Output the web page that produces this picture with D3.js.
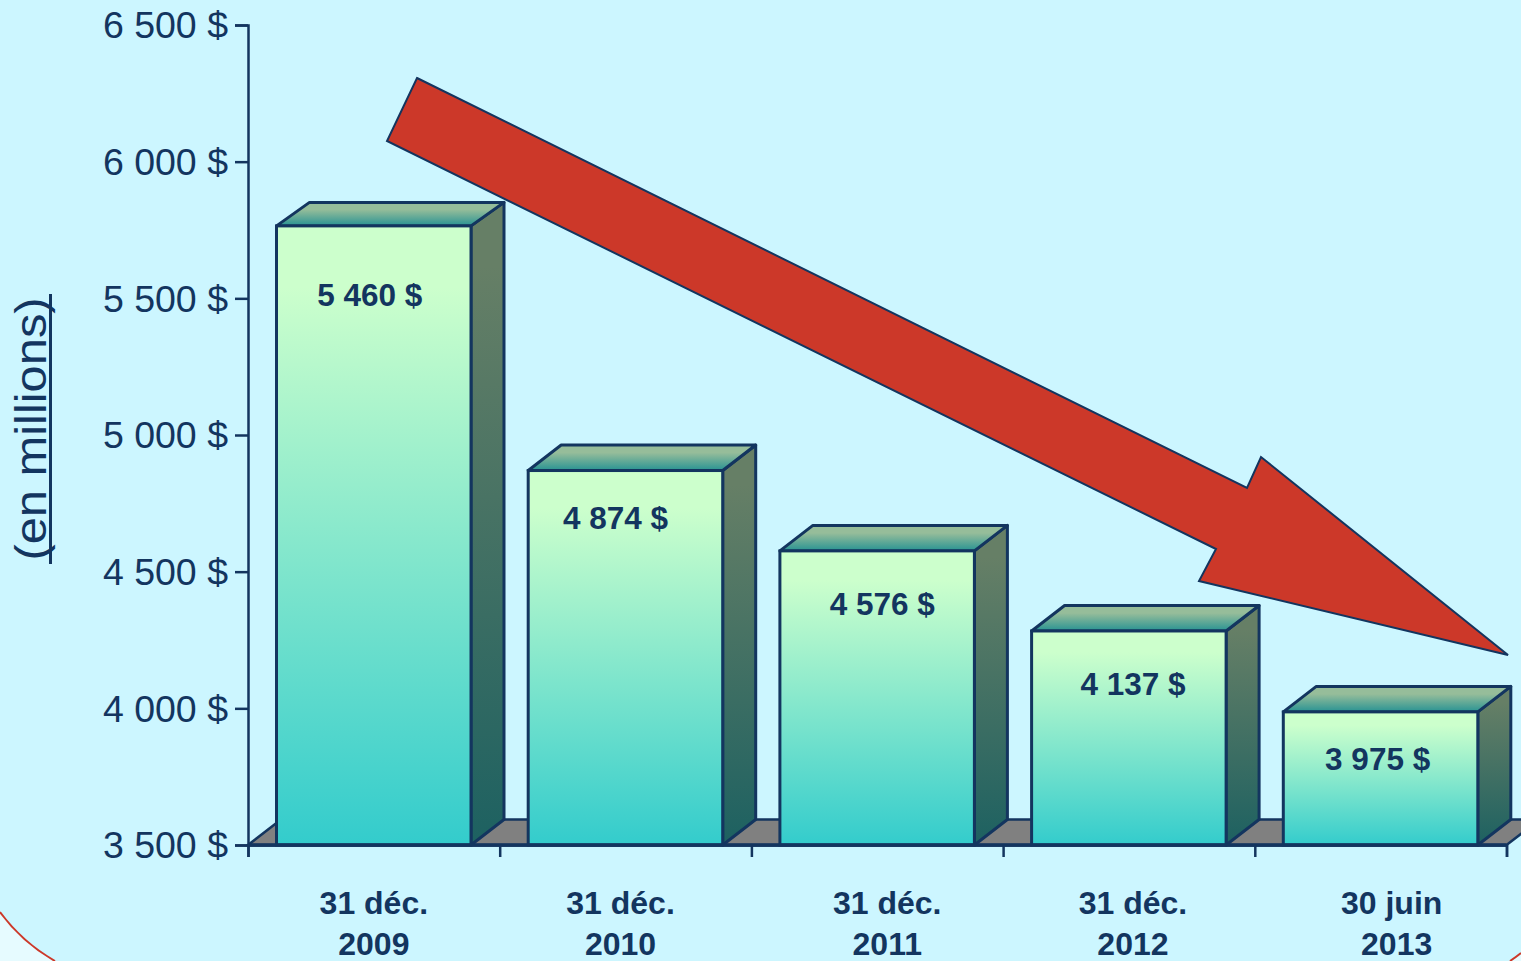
<!DOCTYPE html>
<html>
<head>
<meta charset="utf-8">
<script src="https://cdn.jsdelivr.net/npm/d3@7"></script>
<style>
  html, body { margin: 0; padding: 0; background: #ccf6ff; overflow: hidden; }
  svg { display: block; }
  text { font-family: "Liberation Sans", Arial, sans-serif; fill: #13355f; }
</style>
</head>
<body>
<div id="chart"></div>
<script>
// chart values
const categories = ['31 déc. 2009', '31 déc. 2010', '31 déc. 2011', '31 déc. 2012', '30 juin 2013'];
const dateLines = [['31 déc.', '2009'], ['31 déc.', '2010'], ['31 déc.', '2011'], ['31 déc.', '2012'], ['30 juin', '2013']];
// bar heights as drawn in the picture (they do not always agree with the printed labels)
const barValues = [5765, 4870, 4576, 4283, 3987];
const barLabels = ['5 460 $', '4 874 $', '4 576 $', '4 137 $', '3 975 $'];
const yTicks = [3500, 4000, 4500, 5000, 5500, 6000, 6500];
const yTitle = '(en millions)';

// label placement, the source slide has them hand placed
const labelShiftX = [-4, -10, 5, 4, -3];
const labelDropY = [69, 47, 53, 53, 47];
const dateShiftX = [[0, 0], [-5, -5], [10, 10], [4, 4], [11, 16]];
// first bar has a slightly shallower lid on the slide
const lidDepth = [23.5, 25.5, 25.5, 25.5, 25.5];

const width = 1521, height = 961;
const plot = { left: 248, right: 1506.5, top: 25, bottom: 845 };
const depth = { x: 33, y: 25.5 };
const ink = '#13355f';

const svg = d3.select('#chart').append('svg')
  .attr('width', width)
  .attr('height', height);

const defs = svg.append('defs');
function addGradient(id, top, bottom, hold) {
  const g = defs.append('linearGradient').attr('id', id)
    .attr('x1', 0).attr('y1', 0).attr('x2', 0).attr('y2', 1);
  g.append('stop').attr('offset', hold).attr('stop-color', top);
  g.append('stop').attr('offset', '100%').attr('stop-color', bottom);
}
addGradient('front', '#ccffcc', '#33cccc', '10%');
addGradient('side', '#667f66', '#1d6161', '10%');
addGradient('lid', '#96bd9a', '#289393', '30%');

// rounded slide corners showing behind the chart
const corners = [
  'M0,912 Q22,942 55,961 L0,961 Z',
  'M1510,961 Q1516,957 1521,953 L1521,961 Z'
];
svg.selectAll('.corner').data(corners).enter().append('path')
  .attr('class', 'corner')
  .attr('d', d => d)
  .attr('fill', '#e6fbff')
  .attr('stroke', 'none');
svg.selectAll('.corner-line').data(corners).enter().append('path')
  .attr('class', 'corner-line')
  .attr('d', d => d.split(' L')[0])
  .attr('fill', 'none')
  .attr('stroke', '#cc3829')
  .attr('stroke-width', 2);

const x = d3.scaleBand().domain(categories).range([plot.left, plot.right]);
const xEdges = d3.scaleLinear().domain([0, categories.length]).range([plot.left, plot.right]);
const y = d3.scaleLinear().domain([3500, 6500]).range([plot.bottom, plot.top]);

const barInset = 28.5;
const barWidth = 194.5;

// grey floor
svg.append('path')
  .attr('d', `M${plot.left},${plot.bottom} L${plot.left + depth.x},${plot.bottom - depth.y} L${plot.right + depth.x},${plot.bottom - depth.y} L${plot.right},${plot.bottom} Z`)
  .attr('fill', '#808080')
  .attr('stroke', ink)
  .attr('stroke-width', 2.5);

// axes
const yAxis = svg.append('g')
  .attr('transform', `translate(${plot.left},0)`)
  .call(d3.axisLeft(y)
    .tickValues(yTicks)
    .tickSize(13)
    .tickPadding(7)
    .tickFormat(d => d3.format(',')(d).replace(',', ' ') + ' $'));
yAxis.selectAll('text').style('font-size', '37.5px').attr('dy', '0.34em');

const xAxis = svg.append('g')
  .attr('transform', `translate(0,${plot.bottom})`)
  .call(d3.axisBottom(xEdges)
    .tickValues(d3.range(categories.length + 1))
    .tickSize(12)
    .tickFormat(''));

svg.selectAll('.domain, .tick line')
  .attr('stroke', ink)
  .attr('stroke-width', 2.5);

// bars
const bars = svg.selectAll('.bar').data(barValues).enter().append('g').attr('class', 'bar');
const left = (d, i) => x(categories[i]) + barInset;
const right = (d, i) => left(d, i) + barWidth;

bars.append('path')
  .attr('d', (d, i) => `M${right(d, i)},${y(d)} L${right(d, i) + depth.x},${y(d) - lidDepth[i]} L${right(d, i) + depth.x},${plot.bottom - depth.y} L${right(d, i)},${plot.bottom} Z`)
  .attr('fill', 'url(#side)')
  .attr('stroke', ink)
  .attr('stroke-width', 3)
  .attr('stroke-linejoin', 'round');

bars.append('path')
  .attr('d', (d, i) => `M${left(d, i)},${y(d)} L${left(d, i) + depth.x},${y(d) - lidDepth[i]} L${right(d, i) + depth.x},${y(d) - lidDepth[i]} L${right(d, i)},${y(d)} Z`)
  .attr('fill', 'url(#lid)')
  .attr('stroke', ink)
  .attr('stroke-width', 3)
  .attr('stroke-linejoin', 'round');

bars.append('rect')
  .attr('x', left)
  .attr('y', d => y(d))
  .attr('width', barWidth)
  .attr('height', d => plot.bottom - y(d))
  .attr('fill', 'url(#front)')
  .attr('stroke', ink)
  .attr('stroke-width', 3);

// baseline sits over the bar feet
svg.append('line')
  .attr('x1', plot.left).attr('x2', plot.right)
  .attr('y1', plot.bottom).attr('y2', plot.bottom)
  .attr('stroke', ink)
  .attr('stroke-width', 3.5);

// value labels
bars.append('text')
  .attr('x', (d, i) => x(categories[i]) + x.bandwidth() / 2 + labelShiftX[i])
  .attr('y', (d, i) => y(d) + labelDropY[i])
  .attr('dy', '0.35em')
  .attr('text-anchor', 'middle')
  .style('font-size', '31.5px')
  .style('font-weight', 'bold')
  .text((d, i) => barLabels[i]);

// category labels on two lines
const dates = svg.selectAll('.date').data(dateLines).enter().append('text')
  .attr('class', 'date')
  .attr('text-anchor', 'middle')
  .style('font-size', '32px')
  .style('font-weight', 'bold');
dates.selectAll('tspan').data((d, i) => d.map(t => ({ t, i }))).enter().append('tspan')
  .attr('x', (d, j) => x(categories[d.i]) + x.bandwidth() / 2 + dateShiftX[d.i][j])
  .attr('y', (d, j) => 913.5 + j * 41.5)
  .text(d => d.t);

// y title, stretched along its length like the slide text
svg.append('text')
  .attr('transform', 'translate(46,429) rotate(-90) scale(1.11,1)')
  .attr('text-anchor', 'middle')
  .style('font-size', '44px')
  .text(yTitle);
svg.append('line')
  .attr('x1', 50.5).attr('x2', 50.5)
  .attr('y1', 294).attr('y2', 564)
  .attr('stroke', ink)
  .attr('stroke-width', 3);

// big red trend arrow
const arrowPoints = [[417, 78], [1247, 488], [1261, 457], [1508, 655], [1199, 581], [1216, 549], [387, 141]];
svg.append('polygon')
  .attr('points', arrowPoints.map(p => p.join(',')).join(' '))
  .attr('fill', '#cc3829')
  .attr('stroke', ink)
  .attr('stroke-width', 2);
</script>
</body>
</html>
